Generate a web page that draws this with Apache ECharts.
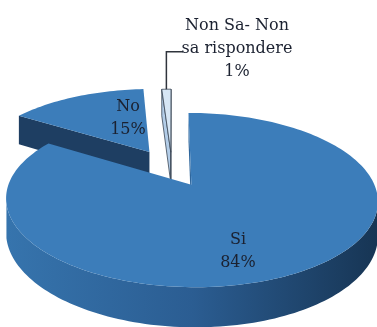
<!DOCTYPE html>
<html>
<head>
<meta charset="utf-8">
<script src="https://cdn.jsdelivr.net/npm/echarts@6/dist/echarts.min.js"></script>
<style>
  html, body { margin: 0; padding: 0; background: #ffffff; }
  #chart { width: 377px; height: 327px; }
</style>
</head>
<body>
<div id="chart"></div>
<script>
// Survey answers (percent)
const categories = ['Si', 'No', 'Non Sa- Non\nsa rispondere'];
const values = [84, 15, 1];

// Slice angles, clockwise from 12 o'clock
const total = values.reduce((s, v) => s + v, 0);
const slices = [];
let acc = 0;
values.forEach(v => {
  const a0 = acc / total * Math.PI * 2;
  acc += v;
  const a1 = acc / total * Math.PI * 2;
  slices.push({ a0, a1, mid: (a0 + a1) / 2 });
});

// Tilted-disc projection with mild perspective
const VIEW = { cx: 172, cy: 169, sx: 177, sy: 79, k: 0.17, h: 32, camZ: 4.6 };
const EXPLODE = [0.22, 0.26, 0.22];
const PALETTE = [
  { top: '#3c7dba', face: '#2f669c', side: ['#3674ad', '#2b5d92', '#173554'], edge: null },
  { top: '#3c7dba', face: '#1e3e62', side: ['#2b5d92', '#2b5d92', '#1e3e62'], edge: null },
  { top: '#d6e6f5', face: '#b3cde8', side: ['#b3cde8', '#b3cde8', '#b3cde8'], edge: '#3a4656' }
];
const LABEL = [
  { r: 0.45, dx: 2.5, dy: 31 },
  { r: 0.30, dx: 2.6, dy: -15 },
  { r: 1.00, dx: 70.6, dy: -40.5, leader: true }
];
const LABEL_FONT = 'DejaVu Serif';

function project(X, Z, d) {
  const w = 1 - VIEW.k * Z;
  return [VIEW.cx + VIEW.sx * X / w, VIEW.cy + (VIEW.sy * Z + VIEW.h * d) / w];
}
function rimPoint(c, t, r, d) {
  return project(c[0] + r * Math.sin(t), c[1] - r * Math.cos(t), d);
}
function arcPoints(c, t0, t1, d) {
  const n = Math.max(2, Math.ceil(Math.abs(t1 - t0) / (Math.PI / 120)));
  const pts = [];
  for (let i = 0; i <= n; i++) pts.push(rimPoint(c, t0 + (t1 - t0) * i / n, 1, d));
  return pts;
}
// outer rim faces the camera?
function rimFacing(c, t) {
  const px = c[0] + Math.sin(t), pz = c[1] - Math.cos(t);
  return (0 - px) * Math.sin(t) + (VIEW.camZ - pz) * (-Math.cos(t)) > 0;
}

const centers = slices.map((s, i) => [EXPLODE[i] * Math.sin(s.mid), -EXPLODE[i] * Math.cos(s.mid)]);
const order = centers.map((c, i) => i).sort((p, q) => centers[p][1] - centers[q][1]);
const depthRank = [];
order.forEach((idx, rank) => { depthRank[idx] = rank; });

function renderSlice(params, api) {
  const i = params.dataIndex;
  const s = slices[i];
  const c = centers[i];
  const pal = PALETTE[i];
  const base = depthRank[i] * 10;
  const children = [];
  const edgeStyle = pal.edge ? { stroke: pal.edge, lineWidth: 0.8 } : {};

  // visible part of the outer wall
  const n = Math.max(2, Math.ceil((s.a1 - s.a0) / (Math.PI / 180)));
  let seg = null;
  const segs = [];
  for (let j = 0; j <= n; j++) {
    const t = s.a0 + (s.a1 - s.a0) * j / n;
    if (rimFacing(c, t)) {
      if (!seg) { seg = [t, t]; segs.push(seg); }
      seg[1] = t;
    } else seg = null;
  }
  segs.forEach(([t0, t1]) => {
    if (t1 - t0 < 1e-6) return;
    const topArc = arcPoints(c, t0, t1, 0);
    const botArc = arcPoints(c, t0, t1, 1).reverse();
    children.push({
      type: 'polygon', z2: base + 1,
      shape: { points: topArc.concat(botArc) },
      style: Object.assign({
        fill: new echarts.graphic.LinearGradient(0, 0, 1, 0, [
          { offset: 0, color: pal.side[0] },
          { offset: 0.5, color: pal.side[1] },
          { offset: 1, color: pal.side[2] }
        ])
      }, edgeStyle)
    });
  });

  // radial cut faces
  [[s.a0, -1], [s.a1, 1]].forEach(([t, sign]) => {
    const nx = sign * Math.cos(t), nz = sign * Math.sin(t);
    if ((0 - c[0]) * nx + (VIEW.camZ - c[1]) * nz <= 0) return;
    children.push({
      type: 'polygon', z2: base + 2,
      shape: { points: [rimPoint(c, t, 0, 0), rimPoint(c, t, 1, 0), rimPoint(c, t, 1, 1), rimPoint(c, t, 0, 1)] },
      style: Object.assign({ fill: pal.face }, edgeStyle)
    });
  });

  // top face
  children.push({
    type: 'polygon', z2: base + 3,
    shape: { points: [rimPoint(c, 0, 0, 0)].concat(arcPoints(c, s.a0, s.a1, 0)) },
    style: Object.assign({ fill: pal.top }, edgeStyle)
  });

  // label
  const lb = LABEL[i];
  const anchor = rimPoint(c, s.mid, lb.r, 0);
  const lx = anchor[0] + lb.dx, ly = anchor[1] + lb.dy;
  if (lb.leader) {
    children.push({
      type: 'polyline', z2: 90,
      shape: { points: [anchor, [anchor[0], ly + 3], [lx - 54, ly + 3]] },
      style: { stroke: '#2f343c', lineWidth: 1.5, fill: null }
    });
  }
  children.push({
    type: 'text', z2: 100,
    style: {
      text: categories[i] + '\n' + api.value(0) + '%',
      x: lx, y: ly,
      align: 'center', verticalAlign: 'middle',
      fontFamily: LABEL_FONT,
      fontSize: 16,
      lineHeight: 23,
      fill: '#1b2130'
    }
  });

  return { type: 'group', children };
}

const chart = echarts.init(document.getElementById('chart'), null, { renderer: 'canvas' });
chart.setOption({
  animation: false,
  backgroundColor: '#ffffff',
  series: [{
    type: 'custom',
    coordinateSystem: 'none',
    renderItem: renderSlice,
    data: values.map((v, i) => ({ name: categories[i], value: v }))
  }]
});
</script>
</body>
</html>
